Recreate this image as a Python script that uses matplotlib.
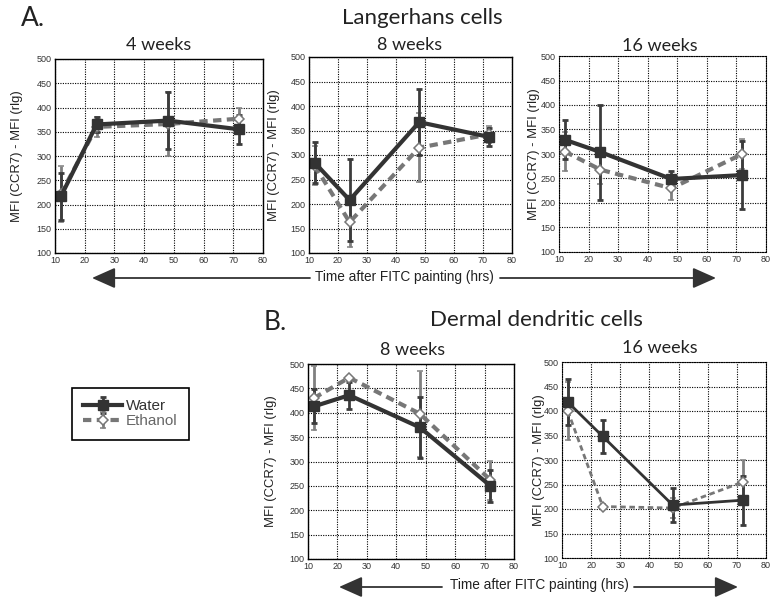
import matplotlib.pyplot as plt
from matplotlib.patches import FancyArrowPatch

W, H = 780, 606

hours = [12, 24, 48, 72]
xticks = list(range(10, 81, 10))
yticks = list(range(100, 501, 50))

# Langerhans cells, 4 weeks
lc4_water = [217, 365, 373, 355]
lc4_water_err = [48, 15, 58, 30]
lc4_eth = [222, 360, 366, 377]
lc4_eth_err = [58, 20, 65, 21]

# Langerhans cells, 8 weeks
lc8_water = [284, 208, 367, 337]
lc8_water_err = [42, 83, 68, 18]
lc8_eth = [278, 163, 315, 342]
lc8_eth_err = [40, 50, 70, 18]

# Langerhans cells, 16 weeks
lc16_water = [329, 304, 249, 257]
lc16_water_err = [40, 97, 17, 70]
lc16_eth = [305, 268, 230, 300]
lc16_eth_err = [40, 30, 23, 30]

# Dermal dendritic cells, 8 weeks
dc8_water = [413, 436, 370, 250]
dc8_water_err = [35, 28, 62, 33]
dc8_eth = [430, 472, 398, 262]
dc8_eth_err = [65, 4, 88, 40]

# Dermal dendritic cells, 16 weeks
dc16_water = [418, 348, 208, 218]
dc16_water_err = [47, 33, 35, 50]
dc16_eth = [400, 205, 202, 255]
dc16_eth_err = [60, 5, 20, 45]

WATER = '#333333'
ETH = '#777777'
TITLE_FONT = ['Lato', 'DejaVu Sans']
TICK_FONT = ['Liberation Sans', 'DejaVu Sans']

fig = plt.figure(figsize=(W / 100, H / 100), dpi=100)


def px_axes(left, top, right, bottom):
    return fig.add_axes([left / W, 1 - bottom / H, (right - left) / W, (bottom - top) / H])


def ftext(x, y, s, **kw):
    fig.text(x / W, 1 - y / H, s, ha='center', va='center', **kw)


def panel(box, label_x, water, water_err, eth, eth_err, dotted=False, lw=3.0):
    ax = px_axes(*box)
    ax.set_xlim(10, 80)
    ax.set_ylim(100, 500)
    ax.set_xticks(xticks)
    ax.set_yticks(yticks)
    ax.grid(True, color='black', linestyle=(0, (1, 1.2)), linewidth=0.8)
    ax.set_axisbelow(True)
    ax.tick_params(length=0, pad=2.5, labelsize=6.5, labelcolor='#333333')
    for lab in ax.get_xticklabels() + ax.get_yticklabels():
        lab.set_family(TICK_FONT)
    for sp in ax.spines.values():
        sp.set_color('black')
        if dotted:
            sp.set_linestyle((0, (1, 1.2)))
            sp.set_linewidth(0.8)
        else:
            sp.set_linewidth(1.0)
    ax.set_ylabel('MFI (CCR7) - MFI (rlg)', fontsize=9.4, family=TICK_FONT, color='#222222')
    ax.yaxis.set_label_coords(-(box[0] - label_x) / (box[2] - box[0]), 0.5)

    he = ax.errorbar(hours, eth, yerr=eth_err, color=ETH, linewidth=lw,
                     linestyle=(0, (2, 1.3)), marker='D', markersize=5,
                     markerfacecolor='white', markeredgecolor=ETH, markeredgewidth=1.1,
                     ecolor='#808080', elinewidth=2, capsize=2.5, capthick=2)
    hw = ax.errorbar(hours, water, yerr=water_err, color=WATER, linewidth=lw,
                     marker='s', markersize=7.5, markerfacecolor=WATER,
                     markeredgecolor=WATER, ecolor='#3c3c3c', elinewidth=2,
                     capsize=2.5, capthick=2)
    return ax, hw, he


ax1, hw, he = panel((55, 59, 263, 253), 23, lc4_water, lc4_water_err, lc4_eth, lc4_eth_err)
panel((309, 57, 512, 253), 280, lc8_water, lc8_water_err, lc8_eth, lc8_eth_err)
panel((559, 56, 766, 252), 540, lc16_water, lc16_water_err, lc16_eth, lc16_eth_err, dotted=True)
panel((308, 364, 514, 559), 277, dc8_water, dc8_water_err, dc8_eth, dc8_eth_err)
panel((562, 362, 766, 558), 545, dc16_water, dc16_water_err, dc16_eth, dc16_eth_err,
      dotted=True, lw=2.0)

# headings
ftext(33, 19, 'A.', fontsize=19, family=TITLE_FONT, color='#222222')
ftext(422, 18, 'Langerhans cells', fontsize=16, family=TITLE_FONT, color='#222222')
ftext(159, 45, '4 weeks', fontsize=13, family=TITLE_FONT, color='#222222')
ftext(410, 45, '8 weeks', fontsize=13, family=TITLE_FONT, color='#222222')
ftext(660, 46, '16 weeks', fontsize=13, family=TITLE_FONT, color='#222222')

ftext(275, 323, 'B.', fontsize=19, family=TITLE_FONT, color='#222222')
ftext(536, 320, 'Dermal dendritic cells', fontsize=16, family=TITLE_FONT, color='#222222')
ftext(413, 350, '8 weeks', fontsize=13, family=TITLE_FONT, color='#222222')
ftext(660, 348, '16 weeks', fontsize=13, family=TITLE_FONT, color='#222222')

# x-axis captions with arrows
ftext(404, 277, 'Time after FITC painting (hrs)', fontsize=9.8, family=TICK_FONT, color='#222222')
ftext(539, 585, 'Time after FITC painting (hrs)', fontsize=9.8, family=TICK_FONT, color='#222222')


def arrow(x0, x1, y):
    a = FancyArrowPatch((x0 / W, 1 - y / H), (x1 / W, 1 - y / H), transform=fig.transFigure,
                        arrowstyle='-|>,head_length=0.9,head_width=0.4', mutation_scale=16,
                        color='#333333', linewidth=1.3, shrinkA=0, shrinkB=0)
    fig.add_artist(a)


arrow(310, 92, 278)
arrow(500, 716, 278)
arrow(442, 339, 587)
arrow(634, 738, 587)

leg = fig.legend([hw, he], ['Water', 'Ethanol'], loc='upper left',
                 bbox_to_anchor=(72 / W, 1 - 388 / H), borderaxespad=0,
                 frameon=True, fancybox=False, edgecolor='black', framealpha=1,
                 handlelength=2.5, handletextpad=0.3, labelspacing=0.05, borderpad=0.75,
                 prop={'family': TICK_FONT, 'size': 11},
                 labelcolor=[WATER, '#666666'])
leg.get_frame().set_linewidth(1.2)

fig.savefig('out.png', dpi=100)
